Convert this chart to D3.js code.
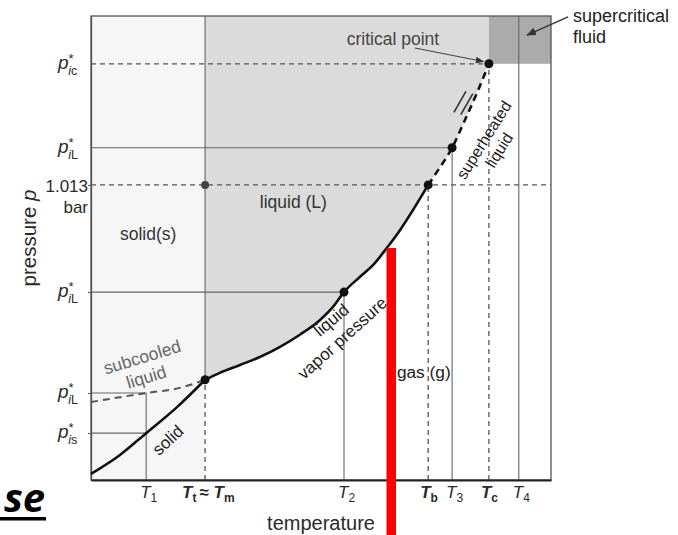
<!DOCTYPE html>
<html>
<head>
<meta charset="utf-8">
<script src="https://cdn.jsdelivr.net/npm/d3@7"></script>
<style>
  body { margin: 0; background: #fff; }
  text { font-family: "Liberation Sans", Arial, sans-serif; fill: #2a2a2a; }
</style>
</head>
<body>
<div id="chart"></div>
<script>
// temperatures on the x axis (arbitrary units 0..100)
var tempSubs   = ["1", "t", "2", "b", "3", "c", "4"];
var tempValues = [12.0, 24.8, 55.0, 73.3, 78.5, 86.5, 93.0];
var tempBold   = [false, true, false, true, false, true, false];

// pressures on the y axis (arbitrary units 0..100)
var pressSubs   = ["ic", "iL", "1.013", "iL", "iL", "is"];
var pressValues = [89.7, 71.6, 63.6, 40.5, 18.75, 10.1];

// phase boundaries, [T, p]
var sublimation = [[0, 1.3], [6.3, 5.4], [12.0, 10.1], [18.7, 15.7], [24.8, 21.6]];
var subcooled   = [[0, 16.8], [12.0, 18.75], [19.1, 19.8], [24.8, 21.6]];
var vaporSolid  = [[24.8, 21.6], [28.0, 23.1], [32.4, 24.8], [36.7, 26.5], [41.1, 28.7],
                   [45.4, 31.3], [49.8, 34.5], [52.6, 37.3], [55.0, 40.5], [58.5, 43.8],
                   [61.3, 46.3], [64.3, 50.0], [67.2, 53.9], [70.0, 58.2], [73.3, 63.6]];
var vaporDashed = [[73.3, 63.6], [75.2, 66.4], [78.5, 71.6], [81.3, 77.6], [83.9, 83.4], [86.5, 89.7]];

var width = 678, height = 535;

var svg = d3.select("#chart").append("svg")
  .attr("width", width)
  .attr("height", height);

var x = d3.scaleLinear().domain([0, 100]).range([91, 551]);
var y = d3.scaleLinear().domain([0, 100]).range([480, 16]);

var defs = svg.append("defs");
defs.append("marker")
  .attr("id", "arrow")
  .attr("viewBox", "0 0 10 10")
  .attr("refX", 9).attr("refY", 5)
  .attr("markerWidth", 7).attr("markerHeight", 7)
  .attr("orient", "auto")
  .append("path")
  .attr("d", "M0,1 L10,5 L0,9 Z")
  .attr("fill", "#333");

// solid region, very light
svg.append("rect")
  .attr("x", x(0)).attr("y", y(100))
  .attr("width", x(tempValues[1]) - x(0))
  .attr("height", y(0) - y(100))
  .attr("fill", "#f6f6f6");

// liquid region
var vaporAll = vaporSolid.concat(vaporDashed.slice(1));
svg.append("path")
  .datum(vaporAll)
  .attr("fill", "#dbdbdb")
  .attr("d", d3.area()
    .x(function(d) { return x(d[0]); })
    .y0(function(d) { return y(d[1]); })
    .y1(y(100))
    .curve(d3.curveMonotoneX));

// supercritical fluid box
svg.append("rect")
  .attr("x", x(tempValues[5])).attr("y", y(100))
  .attr("width", x(100) - x(tempValues[5]))
  .attr("height", y(pressValues[0]) - y(100))
  .attr("fill", "#ababab");

// reference lines
function vline(t, p0, p1, dashed) {
  svg.append("line")
    .attr("x1", x(t)).attr("x2", x(t))
    .attr("y1", y(p0)).attr("y2", y(p1))
    .attr("stroke", dashed ? "#555" : "#666")
    .attr("stroke-width", dashed ? 1.3 : 1.1)
    .attr("stroke-dasharray", dashed ? "5,4" : null);
}
function hline(p, t0, t1, dashed) {
  svg.append("line")
    .attr("x1", x(t0)).attr("x2", x(t1))
    .attr("y1", y(p)).attr("y2", y(p))
    .attr("stroke", dashed ? "#555" : "#666")
    .attr("stroke-width", dashed ? 1.3 : 1.1)
    .attr("stroke-dasharray", dashed ? "5,4" : null);
}
var triple = vaporSolid[0];
vline(tempValues[1], triple[1], 100, false);
vline(tempValues[1], 0, triple[1], true);
vline(tempValues[0], 0, pressValues[4], false);
vline(tempValues[2], 0, pressValues[3], false);
vline(tempValues[3], 0, pressValues[2], true);
vline(tempValues[4], 0, pressValues[1], false);
vline(tempValues[5], 0, pressValues[0], true);
vline(tempValues[6], 0, 100, false);

hline(pressValues[0], 0, tempValues[5], true);
hline(pressValues[1], 0, tempValues[4], false);
hline(pressValues[2], 0, 100, true);
hline(pressValues[3], 0, tempValues[2], false);
hline(pressValues[4], 0, tempValues[0], false);
hline(pressValues[5], 0, tempValues[0], false);

// frame
svg.append("rect")
  .attr("x", x(0)).attr("y", y(100))
  .attr("width", x(100) - x(0)).attr("height", y(0) - y(100))
  .attr("fill", "none").attr("stroke", "#555").attr("stroke-width", 1.3);

svg.append("g")
  .attr("transform", "translate(" + x(0) + ",0)")
  .call(d3.axisLeft(y).tickValues(pressValues.slice(2)).tickSize(3).tickFormat("").tickSizeOuter(0))
  .call(function(g) { g.select(".domain").attr("stroke", "#555").attr("stroke-width", 1.3); })
  .call(function(g) { g.selectAll(".tick line").attr("stroke", "#555"); });

svg.append("g")
  .attr("transform", "translate(0," + y(0) + ")")
  .call(d3.axisBottom(x).tickValues([]).tickSizeOuter(0))
  .call(function(g) { g.select(".domain").attr("stroke", "#222").attr("stroke-width", 2); });

// curves
var line = d3.line()
  .x(function(d) { return x(d[0]); })
  .y(function(d) { return y(d[1]); })
  .curve(d3.curveMonotoneX);

svg.append("path").datum(sublimation)
  .attr("d", line).attr("fill", "none").attr("stroke", "#111").attr("stroke-width", 2.6);
svg.append("path").datum(subcooled)
  .attr("d", line).attr("fill", "none").attr("stroke", "#555").attr("stroke-width", 2)
  .attr("stroke-dasharray", "7,5");
svg.append("path").datum(vaporSolid)
  .attr("d", line).attr("fill", "none").attr("stroke", "#111").attr("stroke-width", 2.6);
svg.append("path").datum(vaporDashed)
  .attr("d", line).attr("fill", "none").attr("stroke", "#111").attr("stroke-width", 2.6)
  .attr("stroke-dasharray", "7,5");

// break marks beside the dashed curve
[[80.2, 81.5], [81.7, 81.0]].forEach(function(c) {
  svg.append("line")
    .attr("x1", x(c[0]) - 6).attr("y1", y(c[1]) + 10.5)
    .attr("x2", x(c[0]) + 6).attr("y2", y(c[1]) - 10.5)
    .attr("stroke", "#333").attr("stroke-width", 1.6);
});

// points
var dots = [triple, [tempValues[2], pressValues[3]], [tempValues[3], pressValues[2]],
            [tempValues[4], pressValues[1]], [tempValues[5], pressValues[0]]];
svg.selectAll("circle.pt")
  .data(dots).enter().append("circle")
  .attr("class", "pt")
  .attr("cx", function(d) { return x(d[0]); })
  .attr("cy", function(d) { return y(d[1]); })
  .attr("r", 4.5).attr("fill", "#111");
svg.append("circle")
  .attr("cx", x(tempValues[1])).attr("cy", y(pressValues[2]))
  .attr("r", 4).attr("fill", "#444");

// y tick labels
pressSubs.forEach(function(s, i) {
  var py = y(pressValues[i]);
  if (s === "1.013") {
    svg.append("text").attr("x", 88).attr("y", py + 7)
      .attr("text-anchor", "end").style("font-size", "17px").text("1.013");
    svg.append("text").attr("x", 88).attr("y", py + 28)
      .attr("text-anchor", "end").style("font-size", "17px").text("bar");
    return;
  }
  var t = svg.append("text").attr("x", 58).attr("y", py + 5);
  t.append("tspan").style("font-size", "19px").style("font-style", "italic").text("p");
  t.append("tspan").attr("dy", -6).style("font-size", "13px").text("*");
  t.append("tspan").attr("dx", -5.5).attr("dy", 12).style("font-size", "12.5px")
    .style("font-style", "italic").text(s[0]);
  t.append("tspan").style("font-size", "12.5px").text(s.slice(1));
});

// x tick labels
tempSubs.forEach(function(s, i) {
  var px = x(tempValues[i]);
  var t = svg.append("text")
    .attr("x", px - (tempBold[i] ? (s === "t" ? 23 : 8) : 6))
    .attr("y", 498)
    .style("font-size", "17px")
    .style("font-weight", tempBold[i] ? "bold" : "normal");
  t.append("tspan").style("font-style", "italic").text("T");
  t.append("tspan").attr("dy", 4).style("font-size", "12px").text(s);
  if (s === "t") {
    t.append("tspan").attr("dy", -4).attr("dx", 3).text("\u2248 ");
    t.append("tspan").style("font-style", "italic").text("T");
    t.append("tspan").attr("dy", 4).style("font-size", "12px").text("m");
  }
});

// axis titles
svg.append("text")
  .attr("x", (x(0) + x(100)) / 2)
  .attr("y", 530)
  .attr("text-anchor", "middle")
  .style("font-size", "20px")
  .text("temperature");

var yt = svg.append("text")
  .attr("transform", "translate(36,238) rotate(-90)")
  .attr("text-anchor", "middle")
  .style("font-size", "20.5px");
yt.append("tspan").text("pressure ");
yt.append("tspan").style("font-style", "italic").text("p");

// region and curve annotations
function label(txt, t, p, size, angle, color, anchor) {
  var el = svg.append("text")
    .attr("transform", "translate(" + x(t) + "," + y(p) + ") rotate(" + (angle || 0) + ")")
    .attr("text-anchor", anchor || "middle")
    .style("font-size", size + "px")
    .style("fill", color || "#2a2a2a")
    .text(txt);
  if (!anchor) el.attr("dy", "0.35em");
}
label("critical point", 55.6, 93.7, 17.5, 0, "#444", "start");
label("liquid (L)", 36.7, 58.6, 17.5, 0, "#333", "start");
label("solid(s)", 6.3, 51.7, 17.5, 0, "#333", "start");
label("gas (g)", 66.5, 22.0, 17.3, 0, "#222", "start");
label("subcooled", 11.1, 26.5, 17.5, -17, "#666");
label("liquid", 12.0, 22.2, 17.5, -17, "#666");
label("solid", 16.7, 8.6, 17, -43, "#222");
label("liquid", 52.2, 34.5, 17, -40, "#222");
label("vapor pressure", 54.6, 30.6, 17, -42, "#222");
label("superheated", 85.4, 73.3, 16, -58, "#222");
label("liquid", 88.7, 71.1, 16, -58, "#222");
label("supercritical", 104.8, 98.7, 18, 0, "#222", "start");
label("fluid", 104.8, 94.2, 18, 0, "#222", "start");

// leader arrows
svg.append("line")
  .attr("x1", x(70.4)).attr("y1", y(93.1))
  .attr("x2", x(85.3)).attr("y2", y(90.2))
  .attr("stroke", "#444").attr("stroke-width", 1.2)
  .attr("marker-end", "url(#arrow)");
svg.append("line")
  .attr("x1", x(103.7)).attr("y1", y(99.8))
  .attr("x2", x(94.8)).attr("y2", y(95.9))
  .attr("stroke", "#333").attr("stroke-width", 1.4)
  .attr("marker-end", "url(#arrow)");

// red marker bar overlay
svg.append("rect")
  .attr("x", 386.5).attr("y", 248)
  .attr("width", 9.5).attr("height", height - 248)
  .attr("fill", "#ff0000");

// "se" fragment
svg.append("text")
  .attr("x", 4).attr("y", 512)
  .style("font-family", "'Open Sans', sans-serif")
  .style("font-size", "40px")
  .style("font-weight", "bold")
  .style("font-style", "italic")
  .style("fill", "#000")
  .attr("textLength", 41)
  .text("se");
svg.append("rect")
  .attr("x", 0).attr("y", 517).attr("width", 46).attr("height", 3.5)
  .attr("fill", "#000");
</script>
</body>
</html>
